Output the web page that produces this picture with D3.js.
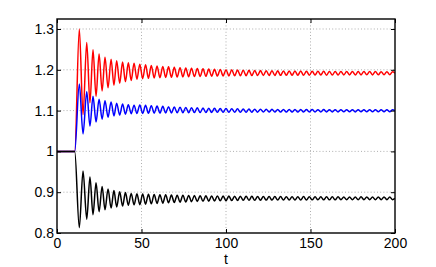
<!DOCTYPE html>
<html>
<head>
<meta charset="utf-8">
<script src="https://cdn.jsdelivr.net/npm/d3@7"></script>
<style>
html,body{margin:0;padding:0;background:#fff;}
svg{display:block;}
text{font-family:"Liberation Sans",Arial,Helvetica,sans-serif;}
</style>
</head>
<body>
<svg id="chart" width="436" height="267"></svg>
<script>
const xTicks = [0, 50, 100, 150, 200];
const yTicks = [0.8, 0.9, 1.0, 1.1, 1.2, 1.3];
const yTickLabels = ["0.8", "0.9", "1", "1.1", "1.2", "1.3"];
const xLabel = "t";

// times of successive extrema
const tExt = [0, 10.5, 13.2, 15.4, 17.6, 19.5, 21.3, 23.1, 24.9, 26.7, 28.4, 30.2, 32.0, 33.7, 35.3, 37.1, 38.8, 40.5, 42.2, 43.9, 45.6, 47.3,
  49.0, 50.7, 52.4, 54.1, 55.8, 57.5, 59.2, 60.9, 62.6, 64.3, 66.0, 67.7, 69.4, 71.1, 72.8, 74.5, 76.2, 77.9, 79.6, 81.3,
  83.0, 84.7, 86.4, 88.1, 89.8, 91.5, 93.2, 94.9, 96.6, 98.3, 100.0, 101.7, 103.4, 105.1, 106.8, 108.5, 110.2, 111.9, 113.6, 115.3,
  117.0, 118.7, 120.4, 122.1, 123.8, 125.5, 127.2, 128.9, 130.6, 132.3, 134.0, 135.7, 137.4, 139.1, 140.8, 142.5, 144.2, 145.9, 147.6, 149.3,
  151.0, 152.7, 154.4, 156.1, 157.8, 159.5, 161.2, 162.9, 164.6, 166.3, 168.0, 169.7, 171.4, 173.1, 174.8, 176.5, 178.2, 179.9, 181.6, 183.3,
  185.0, 186.7, 188.4, 190.1, 191.8, 193.5, 195.2, 196.9, 198.6, 200];

const redVals = [1, 1,
  1.300, 1.090, 1.267, 1.119, 1.249, 1.135, 1.239, 1.148, 1.231, 1.156, 1.226, 1.162, 1.222, 1.167, 1.219, 1.171, 1.217, 1.174, 1.216, 1.177,
  1.2138, 1.1782, 1.2122, 1.1792, 1.2108, 1.1800, 1.2095, 1.1807, 1.2083, 1.1813, 1.2072, 1.1818, 1.2062, 1.1822, 1.2053, 1.1827, 1.2045, 1.1831, 1.2037, 1.1835,
  1.2030, 1.1838, 1.2023, 1.1841, 1.2017, 1.1843, 1.2012, 1.1846, 1.2007, 1.1849, 1.2003, 1.1851, 1.1999, 1.1853, 1.1995, 1.1855, 1.1991, 1.1857, 1.1988, 1.1858,
  1.1985, 1.1859, 1.1982, 1.1860, 1.1979, 1.1861, 1.1977, 1.1863, 1.1974, 1.1864, 1.1973, 1.1865, 1.1970, 1.1866, 1.1971, 1.1865, 1.1969, 1.1867, 1.1966, 1.1868,
  1.1964, 1.1870, 1.1963, 1.1871, 1.1963, 1.1869, 1.1961, 1.1871, 1.1960, 1.1872, 1.1959, 1.1873, 1.1958, 1.1874, 1.1959, 1.1873, 1.1957, 1.1875, 1.1956, 1.1876,
  1.1957, 1.1875, 1.1956, 1.1876, 1.1955, 1.1877, 1.1955, 1.1877,
  1.1955, 1.1916];

const blueVals = [1, 1,
  1.165, 1.043, 1.146, 1.062, 1.135, 1.072, 1.128, 1.079, 1.124, 1.084, 1.121, 1.087, 1.118, 1.089, 1.116, 1.091, 1.1145, 1.0925, 1.113, 1.0928,
  1.1140, 1.0930, 1.1130, 1.0934, 1.1121, 1.0937, 1.1112, 1.0940, 1.1104, 1.0942, 1.1096, 1.0944, 1.1090, 1.0946, 1.1084, 1.0948, 1.1078, 1.0950, 1.1072, 1.0952,
  1.1067, 1.0953, 1.1062, 1.0954, 1.1058, 1.0956, 1.1055, 1.0957, 1.1052, 1.0958, 1.1049, 1.0959, 1.1046, 1.0960, 1.1043, 1.0961, 1.1041, 1.0961, 1.1038, 1.0962,
  1.1036, 1.0962, 1.1034, 1.0964, 1.1032, 1.0964, 1.1031, 1.0965, 1.1029, 1.0965, 1.1028, 1.0966, 1.1027, 1.0967, 1.1027, 1.0965, 1.1026, 1.0966, 1.1025, 1.0967,
  1.1024, 1.0968, 1.1023, 1.0967, 1.1024, 1.0966, 1.1022, 1.0968, 1.1022, 1.0968, 1.1021, 1.0969, 1.1021, 1.0969, 1.1022, 1.0968, 1.1021, 1.0969, 1.1020, 1.0970,
  1.1020, 1.0970, 1.1020, 1.0970, 1.1019, 1.0971, 1.1019, 1.0971,
  1.1019, 1.0995];

const blackVals = [1, 1,
  0.813, 0.952, 0.834, 0.937, 0.845, 0.923, 0.852, 0.914, 0.857, 0.908, 0.861, 0.904, 0.864, 0.901, 0.866, 0.899, 0.868, 0.897, 0.869, 0.896,
  0.8695, 0.8955, 0.8706, 0.8950, 0.8715, 0.8945, 0.8724, 0.8940, 0.8732, 0.8936, 0.8740, 0.8932, 0.8748, 0.8928, 0.8755, 0.8925, 0.8761, 0.8921, 0.8766, 0.8918,
  0.8771, 0.8915, 0.8776, 0.8912, 0.8781, 0.8909, 0.8785, 0.8907, 0.8789, 0.8905, 0.8792, 0.8904, 0.8795, 0.8903, 0.8798, 0.8902, 0.8800, 0.8900, 0.8802, 0.8898,
  0.8803, 0.8897, 0.8804, 0.8896, 0.8806, 0.8894, 0.8807, 0.8893, 0.8808, 0.8892, 0.8809, 0.8891, 0.8810, 0.8890, 0.8809, 0.8891, 0.8808, 0.8892, 0.8810, 0.8890,
  0.8812, 0.8888, 0.8814, 0.8886, 0.8813, 0.8887, 0.8812, 0.8888, 0.8813, 0.8887, 0.8815, 0.8885, 0.8816, 0.8884, 0.8815, 0.8885, 0.8814, 0.8886, 0.8816, 0.8884,
  0.8817, 0.8883, 0.8816, 0.8884, 0.8817, 0.8883, 0.8818, 0.8882,
  0.8818, 0.885];

const seriesList = [
  {name: "red", values: redVals, color: "#ff0000"},
  {name: "blue", values: blueVals, color: "#0000ff"},
  {name: "black", values: blackVals, color: "#000000"}
];

const L = 57, R = 395, T = 19, B = 233;
const svg = d3.select("#chart");
const x = d3.scaleLinear().domain([0, 200]).range([L, R]);
const y = d3.scaleLinear().domain([0.8, 1.3245]).range([B, T]);

svg.append("defs").append("clipPath").attr("id", "clip")
  .append("rect").attr("x", L).attr("y", T).attr("width", R - L).attr("height", B - T);

// grid
const grid = svg.append("g");
grid.selectAll("line.gx").data(xTicks.filter(d => d > 0 && d < 200)).enter().append("line")
  .attr("x1", d => x(d)).attr("x2", d => x(d)).attr("y1", T).attr("y2", B)
  .attr("stroke", "#9a9a9a").attr("stroke-width", 0.8).attr("stroke-dasharray", "1,2.2");
grid.selectAll("line.gy").data(yTicks.filter(d => d > 0.8)).enter().append("line")
  .attr("x1", L).attr("x2", R).attr("y1", d => y(d)).attr("y2", d => y(d))
  .attr("stroke", "#9a9a9a").attr("stroke-width", 0.8).attr("stroke-dasharray", "1,2.2");

// curves
const line = d3.line().x((d, i) => x(tExt[i])).y(d => y(d)).curve(d3.curveMonotoneX);
const plot = svg.append("g").attr("clip-path", "url(#clip)");
seriesList.forEach(s => {
  plot.append("path").datum(s.values).attr("d", line)
    .attr("fill", "none").attr("stroke", s.color).attr("stroke-width", 1.5)
    .attr("stroke-linejoin", "round");
});

// axes
const fmtY = d => yTickLabels[yTicks.indexOf(d)];
const ax = svg.append("g").attr("transform", `translate(0,${B})`)
  .call(d3.axisBottom(x).tickValues(xTicks).tickFormat(d3.format("d")).tickSizeInner(-4).tickSizeOuter(0).tickPadding(5));
const ay = svg.append("g").attr("transform", `translate(${L},0)`)
  .call(d3.axisLeft(y).tickValues(yTicks).tickFormat(fmtY).tickSizeInner(-4).tickSizeOuter(0).tickPadding(3));
const axT = svg.append("g").attr("transform", `translate(0,${T})`)
  .call(d3.axisTop(x).tickValues(xTicks).tickFormat("").tickSizeInner(-4).tickSizeOuter(0));
const ayR = svg.append("g").attr("transform", `translate(${R},0)`)
  .call(d3.axisRight(y).tickValues(yTicks).tickFormat("").tickSizeInner(-4).tickSizeOuter(0));

[ax, ay, axT, ayR].forEach(g => {
  g.select(".domain").remove();
  g.selectAll(".tick line").attr("stroke", "#000").attr("stroke-width", 1);
  g.selectAll("text").attr("font-size", 14).attr("fill", "#000")
    .style("font-family", "'Liberation Sans', Arial, sans-serif");
});

// box
svg.append("rect").attr("x", L).attr("y", T).attr("width", R - L).attr("height", B - T)
  .attr("fill", "none").attr("stroke", "#000").attr("stroke-width", 1.4);

svg.append("text").attr("x", (L + R) / 2).attr("y", 264).attr("text-anchor", "middle")
  .attr("font-size", 14).attr("fill", "#000").text(xLabel);
</script>
</body>
</html>
